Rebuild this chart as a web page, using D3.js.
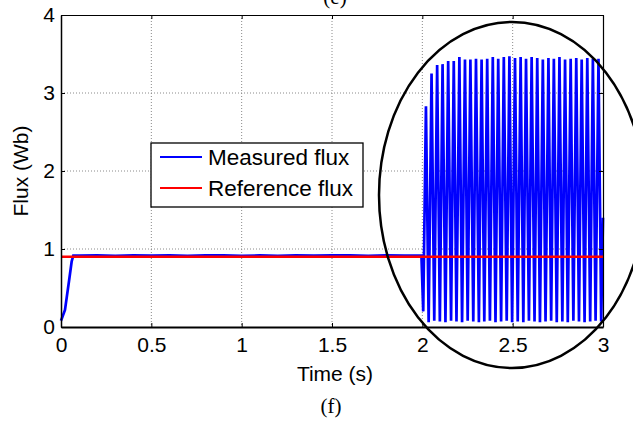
<!DOCTYPE html>
<html><head><meta charset="utf-8">
<script src="https://cdn.jsdelivr.net/npm/d3@7"></script>
<style>body{margin:0;background:#fff}svg{display:block}text{font-family:Arial,"Liberation Sans",sans-serif}</style>
</head><body>
<svg id="c" width="633" height="425"></svg>
<script>
// ---- data ----
const xTicks = [0, 0.5, 1, 1.5, 2, 2.5, 3];
const yTicks = [0, 1, 2, 3, 4];
const seriesNames = ["Measured flux", "Reference flux"];
const referenceFlux = 0.9;
const riseTime = [0, 0.022, 0.045, 0.059, 0.068];
const riseFlux = [0.08, 0.22, 0.6, 0.84, 0.915];
const steadyTime = [0.1,0.2,0.3,0.4,0.5,0.6,0.7,0.8,0.9,1.0,1.1,1.2,1.3,1.4,1.5,1.6,1.7,1.8,1.9,1.995];
const steadyFlux = [0.915,0.92,0.912,0.918,0.914,0.92,0.912,0.917,0.92,0.913,0.918,0.912,0.92,0.914,0.917,0.92,0.912,0.918,0.914,0.915];
const dropTime = [2.005];
const dropFlux = [0.2];
const peakTime = [2.020,2.051,2.082,2.112,2.143,2.174,2.205,2.236,2.266,2.297,2.328,2.359,2.390,2.420,2.451,2.482,2.513,2.544,2.574,2.605,2.636,2.667,2.698,2.728,2.759,2.790,2.821,2.852,2.882,2.913,2.944,2.975];
const peakFlux = [2.83,3.25,3.36,3.37,3.41,3.41,3.46,3.43,3.43,3.44,3.43,3.44,3.46,3.44,3.46,3.47,3.45,3.46,3.44,3.46,3.45,3.43,3.45,3.44,3.46,3.43,3.44,3.45,3.43,3.45,3.44,3.44];
const troughTime = [2.035,2.066,2.097,2.128,2.159,2.189,2.220,2.251,2.282,2.313,2.343,2.374,2.405,2.436,2.467,2.497,2.528,2.559,2.590,2.621,2.651,2.682,2.713,2.744,2.775,2.805,2.836,2.867,2.898,2.929,2.959,2.990];
const troughFlux = [0.06,0.08,0.07,0.06,0.08,0.07,0.06,0.08,0.07,0.06,0.07,0.08,0.06,0.07,0.08,0.06,0.07,0.06,0.08,0.07,0.06,0.07,0.08,0.06,0.07,0.06,0.08,0.07,0.06,0.07,0.08,0.07];
const endTime = [3.0];
const endFlux = [1.4];

// ---- build series ----
const measured = [];
riseTime.forEach((t,i)=>measured.push([t, riseFlux[i]]));
steadyTime.forEach((t,i)=>measured.push([t, steadyFlux[i]]));
dropTime.forEach((t,i)=>measured.push([t, dropFlux[i]]));
peakTime.forEach((t,i)=>{ measured.push([t, peakFlux[i]]); measured.push([troughTime[i], troughFlux[i]]); });
endTime.forEach((t,i)=>measured.push([t, endFlux[i]]));
const reference = [[0, referenceFlux],[3, referenceFlux]];

const svg = d3.select("#c");
const L = 61, R = 603, T = 15, B = 327;
const x = d3.scaleLinear().domain([0,3]).range([L,R]);
const y = d3.scaleLinear().domain([0,4]).range([B,T]);

// grid
const g = svg.append("g");
g.selectAll(".gx").data(xTicks.slice(1,-1)).join("line")
  .attr("x1",d=>x(d)).attr("x2",d=>x(d)).attr("y1",T).attr("y2",B)
  .attr("stroke","#8a8a8a").attr("stroke-width",1).attr("stroke-dasharray","1,2");
g.selectAll(".gy").data(yTicks.slice(1,-1)).join("line")
  .attr("y1",d=>y(d)).attr("y2",d=>y(d)).attr("x1",L).attr("x2",R)
  .attr("stroke","#8a8a8a").attr("stroke-width",1).attr("stroke-dasharray","1,2");

// lines
const line = d3.line().x(d=>x(d[0])).y(d=>y(d[1]));
svg.append("path").datum(measured).attr("d",line).attr("fill","none")
  .attr("stroke","#0000ff").attr("stroke-width",2.7).attr("stroke-linejoin","miter").attr("stroke-miterlimit",2);
svg.append("path").datum(reference).attr("d",line).attr("fill","none")
  .attr("stroke","#ff0000").attr("stroke-width",2.6);

// axes (box with inward ticks on all sides)
const axB = d3.axisBottom(x).tickValues(xTicks).tickSizeInner(-4).tickSizeOuter(0).tickPadding(10).tickFormat(d3.format("~g"));
const axL = d3.axisLeft(y).tickValues(yTicks).tickSizeInner(-4).tickSizeOuter(0).tickPadding(6).tickFormat(d3.format("~g"));
const axT = d3.axisTop(x).tickValues(xTicks).tickSizeInner(-4).tickSizeOuter(0).tickFormat("");
const axR = d3.axisRight(y).tickValues(yTicks).tickSizeInner(-4).tickSizeOuter(0).tickFormat("");
function style(sel, w){
  sel.select(".domain").attr("stroke","#000").attr("stroke-width",w);
  sel.selectAll(".tick line").attr("stroke","#000").attr("stroke-width",1);
  sel.selectAll(".tick text").attr("fill","#000").attr("font-size","21px").attr("font-family","Arial, 'Liberation Sans', sans-serif");
}
style(svg.append("g").attr("transform",`translate(0,${T})`).call(axT), 1.2);
style(svg.append("g").attr("transform",`translate(${R},0)`).call(axR), 1.2);
style(svg.append("g").attr("transform",`translate(0,${B})`).call(axB), 2);
style(svg.append("g").attr("transform",`translate(${L},0)`).call(axL), 1.5);

// axis labels
svg.append("text").attr("x",335).attr("y",381).attr("text-anchor","middle").attr("font-size","21px").text("Time (s)");
svg.append("text").attr("transform","translate(28,171) rotate(-90)").attr("text-anchor","middle").attr("font-size","21px").text("Flux (Wb)");
svg.append("text").attr("x",331).attr("y",413).attr("text-anchor","middle").attr("font-size","21px")
  .style("font-family","'Liberation Serif','Times New Roman',serif").text("(f)");
svg.append("text").attr("x",335).attr("y",4).attr("text-anchor","middle").attr("font-size","21px")
  .style("font-family","'Liberation Serif','Times New Roman',serif").text("(e)");

// legend
const lg = svg.append("g");
lg.append("rect").attr("x",151).attr("y",143).attr("width",212).attr("height",64)
  .attr("fill","#fff").attr("stroke","#000").attr("stroke-width",1.3);
const colors = ["#0000ff","#ff0000"];
seriesNames.forEach((n,i)=>{
  const yy = 157 + i*31;
  lg.append("line").attr("x1",160).attr("x2",202).attr("y1",yy).attr("y2",yy).attr("stroke",colors[i]).attr("stroke-width",2.2);
  lg.append("text").attr("x",208).attr("y",yy).attr("dy","0.36em").attr("font-size","22.5px").text(n);
});

// highlight ellipse
svg.append("ellipse").attr("cx",512).attr("cy",195).attr("rx",133).attr("ry",173)
  .attr("fill","none").attr("stroke","#000").attr("stroke-width",2.5);
</script>
</body></html>
